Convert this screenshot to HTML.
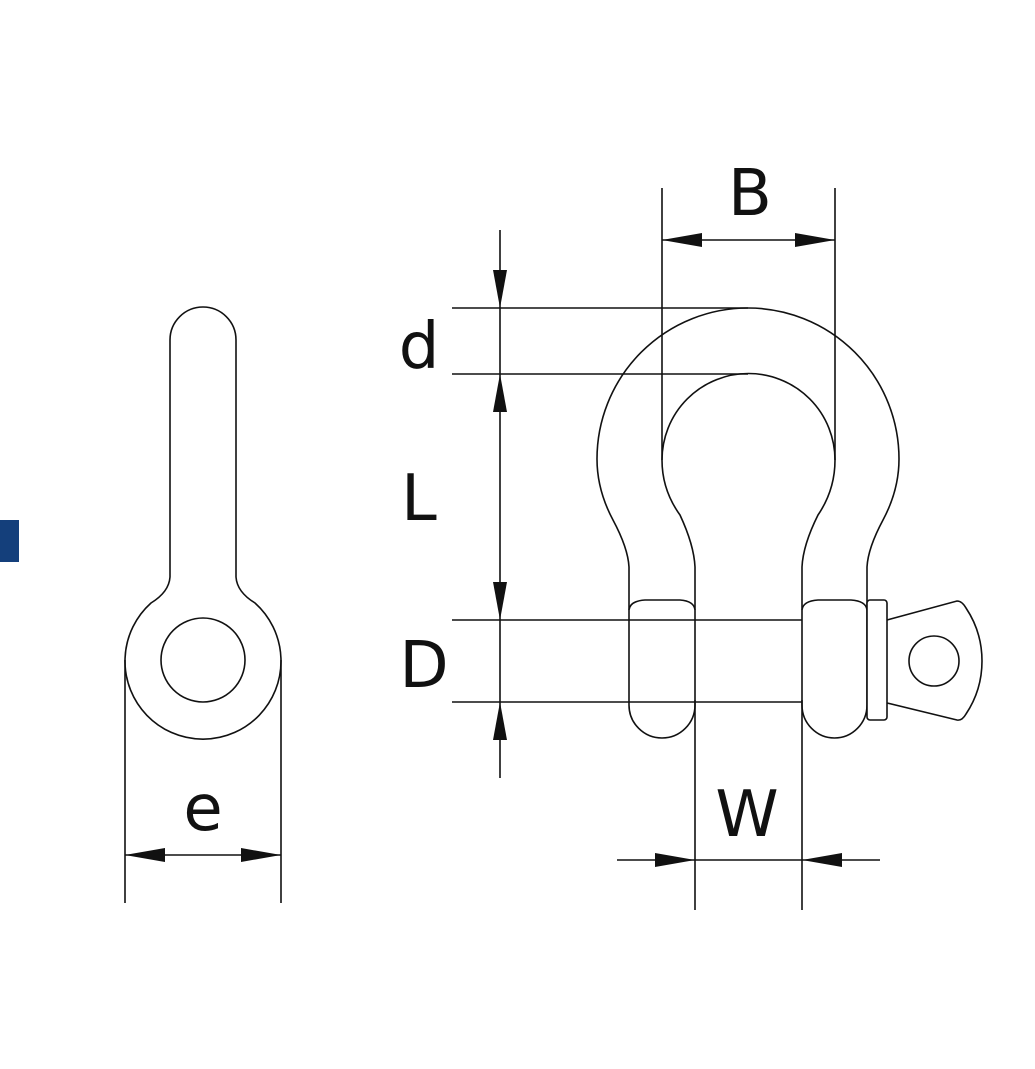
<!DOCTYPE html>
<html><head><meta charset="utf-8"><style>
html,body{margin:0;padding:0;background:#fff;}
svg{display:block;}
text{font-family:"DejaVu Sans","Liberation Sans",sans-serif;fill:#111;}
</style></head><body>
<svg width="1035" height="1069" viewBox="0 0 1035 1069" xmlns="http://www.w3.org/2000/svg">
<rect x="0" y="520" width="19" height="42" fill="#143f7b"/>
<g fill="none" stroke="#111" stroke-width="1.6">
<path d="M170,577 L170,340 A33,33 0 0 1 236,340 L236,577 Q237,592 255,603 A78,78 0 1 1 151,603 Q169,592 170,577 Z"/>
<circle cx="203" cy="660" r="42"/>
<line x1="125" y1="660" x2="125" y2="903"/>
<line x1="281" y1="660" x2="281" y2="903"/>
<line x1="125" y1="855" x2="281" y2="855"/>
<path d="M629,610 L629,567 Q628,548 613,520 Q597,490 597,459 A151,151 0 0 1 899,459 Q899,490 883,520 Q868,548 867,567 L867,610"/>
<path d="M695,610 L695,567 Q694,545 680,515 Q662,490 662,460 A86.5,86.5 0 0 1 835,460 Q835,490 818,515 Q803,545 802,567 L802,610"/>
<path d="M629,610 Q630,601 645,600 L680,600 Q694,601 695,610 L695,705 A33,33 0 0 1 629,705 Z" fill="#fff"/>
<path d="M802,610 Q803,601 818,600 L851,600 Q866,601 867,610 L867,705 A32.5,33 0 0 1 802,705 Z" fill="#fff"/>
<rect x="867" y="600" width="20" height="120" rx="3" fill="#fff"/>
<path d="M887,620 L957,601 Q962,601 966,608 Q982,632 982,661 Q982,690 966,714 Q962,721 957,720 L887,703"/>
<circle cx="934" cy="661" r="25"/>
<line x1="452" y1="308" x2="748" y2="308"/>
<line x1="452" y1="374" x2="748" y2="374"/>
<line x1="452" y1="620" x2="802" y2="620"/>
<line x1="452" y1="702" x2="802" y2="702"/>
<line x1="500" y1="230" x2="500" y2="778"/>
<line x1="662" y1="188" x2="662" y2="460"/>
<line x1="835" y1="188" x2="835" y2="460"/>
<line x1="662" y1="240" x2="835" y2="240"/>
<line x1="695" y1="700" x2="695" y2="910"/>
<line x1="802" y1="700" x2="802" y2="910"/>
<line x1="617" y1="860" x2="880" y2="860"/>
</g>
<g fill="#111">
<polygon points="125,855 165,848 165,862"/>
<polygon points="281,855 241,848 241,862"/>
<polygon points="500,308 493,270 507,270"/>
<polygon points="500,374 493,412 507,412"/>
<polygon points="500,620 493,582 507,582"/>
<polygon points="500,702 493,740 507,740"/>
<polygon points="662,240 702,233 702,247"/>
<polygon points="835,240 795,233 795,247"/>
<polygon points="695,860 655,853 655,867"/>
<polygon points="802,860 842,853 842,867"/>
</g>
<g font-size="64" text-anchor="middle">
<text x="750" y="215">B</text>
<text x="419" y="368">d</text>
<text x="419" y="520">L</text>
<text x="424" y="687">D</text>
<text x="203" y="830">e</text>
<text x="747" y="836">W</text>
</g>
</svg>
</body></html>
